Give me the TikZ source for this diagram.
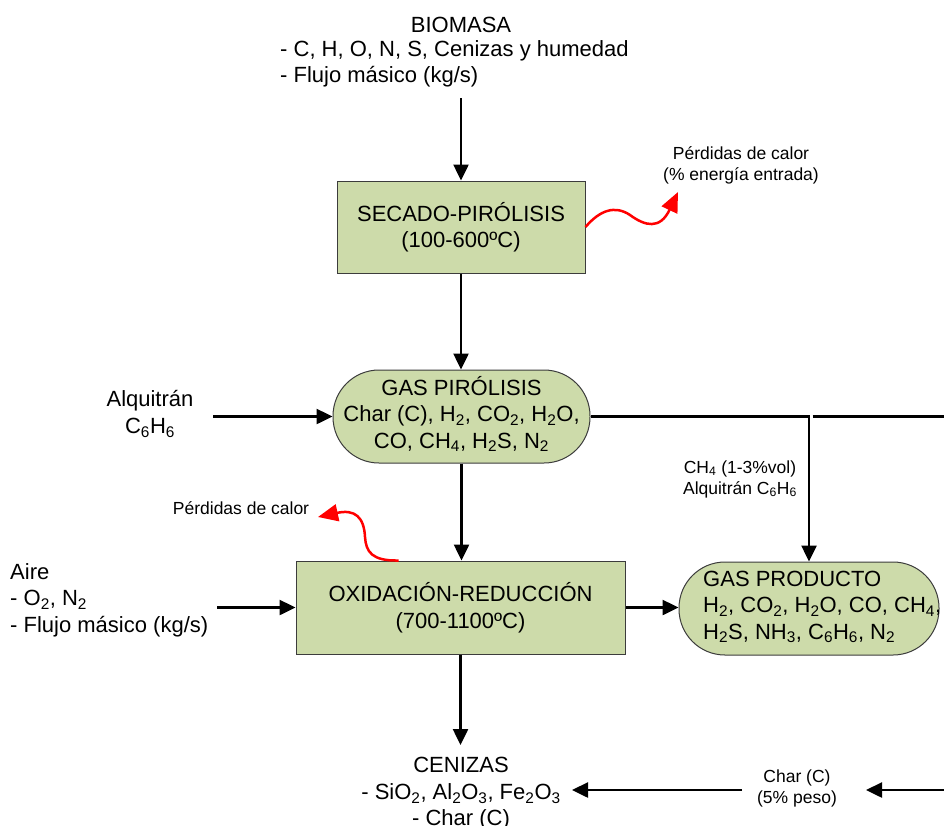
\documentclass[tikz,border=0pt]{standalone}
\usepackage{fontspec}
\setmainfont{Liberation Sans}
\usetikzlibrary{arrows.meta}
\definecolor{procfill}{RGB}{205,219,170}
\definecolor{edgegray}{RGB}{60,60,60}
\newcommand{\ch}[1]{\textsubscript{#1}}

\begin{document}
\begin{tikzpicture}[x=1pt,y=-1pt,
  bigtxt/.style={font=\fontsize{22}{26.5}\selectfont, inner sep=0pt},
  smalltxt/.style={font=\fontsize{17.5}{21}\selectfont, inner sep=0pt},
  procbox/.style={draw=edgegray, line width=1pt, fill=procfill,
    minimum width=#1, minimum height=92pt, inner sep=0pt, bigtxt, align=center},
  pill/.style={draw=edgegray, line width=1pt, fill=procfill, rounded corners=46pt,
    minimum width=#1, minimum height=93pt, inner sep=0pt, bigtxt, align=center},
  flow/.style={line width=2.5pt, -{Triangle[length=16pt,width=15pt]}},
  plainflow/.style={line width=2.5pt},
  heatloss/.style={red, line width=2.5pt, -{Triangle[length=20pt,width=17pt]}}]

\useasboundingbox (0,0) rectangle (944,825);
\clip (0,0) rectangle (944,825);

% feed
\node[bigtxt] (biomasa) at (461,25) {BIOMASA};
\node[bigtxt, anchor=west, align=left] (biolist) at (280,64)
  {- C, H, O, N, S, Cenizas y humedad\\- Flujo másico (kg/s)};
\coordinate (bioout) at (461,98);

% process blocks and streams
\node[procbox=248pt] (secado) at (461,227) {SECADO-PIRÓLISIS\\(100-600ºC)};
\node[pill=257pt] (gaspir) at (461.5,416.5) {};
\node[bigtxt, align=center] (gaspirtxt) at (461.5,414)
  {GAS PIRÓLISIS\\Char (C), H\ch2, CO\ch2, H\ch2O,\\CO, CH\ch4, H\ch2S, N\ch2};
\node[procbox=329pt, minimum height=93pt] (oxid) at (460.5,607.5)
  {OXIDACIÓN-REDUCCIÓN\\(700-1100ºC)};
\node[pill=260pt] (gasprod) at (809,608.5) {};
\node[bigtxt, anchor=west, align=left] (gasprodtxt) at (703,607)
  {GAS PRODUCTO\\H\ch2, CO\ch2, H\ch2O, CO, CH\ch4,\\H\ch2S, NH\ch3, C\ch6H\ch6, N\ch2};

% side inputs
\node[bigtxt, align=center] (alq) at (150,414) {Alquitrán\\C\ch6H\ch6};
\coordinate (alqout) at (213,416.5);
\node[bigtxt, anchor=west, align=left] (aire) at (10,600)
  {Aire\\- O\ch2, N\ch2\\- Flujo másico (kg/s)};
\coordinate (aireout) at (217,607.5);

% outputs
\node[bigtxt, align=center] (cenizas) at (461,794)
  {CENIZAS\\- SiO\ch2, Al\ch2O\ch3, Fe\ch2O\ch3\\- Char (C)};
\coordinate (cenin) at (460.5,745);

\node[smalltxt, align=center] (ch4txt) at (740,479)
  {CH\ch4 (1-3\%vol)\\Alquitrán C\ch6H\ch6};
\node[smalltxt, align=center] (chartxt) at (797,788) {Char (C)\\(5\% peso)};
\coordinate (charA) at (742,790);
\coordinate (charB) at (572,790);
\coordinate (charC) at (944,790);
\coordinate (charD) at (866,790);
\coordinate (recycA) at (812.5,416.5);
\coordinate (recycB) at (944,416.5);

% heat losses
\node[smalltxt, align=center] (losstxt1) at (741,165)
  {Pérdidas de calor\\(\% energía entrada)};
\coordinate (loss1) at (678,192);
\node[smalltxt] (losstxt2) at (241,508) {Pérdidas de calor};
\coordinate (loss2) at (318,517);

% connectors
\draw[flow] (bioout) -- (secado.north);
\draw[flow] (secado.south) -- (secado.south |- gaspir.north);
\draw[flow] (alqout) -- (gaspir.west);
\draw[flow] (gaspir.south) -- (gaspir.south |- oxid.north);
\draw[flow] (gaspir.east) -| (gasprod.north);
\draw[plainflow] (recycA) -- (recycB);
\draw[flow] (aireout) -- (oxid.west);
\draw[flow] (oxid.east) -- (oxid.east -| gasprod.west);
\draw[flow] (oxid.south) -- (cenin);
\draw[flow] (charA) -- (charB);
\draw[flow] (charC) -- (charD);

\draw[heatloss] (secado.east) .. controls (600,210) and (615,205) .. (630,215)
  .. controls (645,226) and (660,230) .. (loss1);
\draw[heatloss] ([xshift=-62pt]oxid.north) .. controls (372,561) and (366,552) .. (365,537)
  .. controls (364,517) and (355,509) .. (loss2);

\end{tikzpicture}
\end{document}
